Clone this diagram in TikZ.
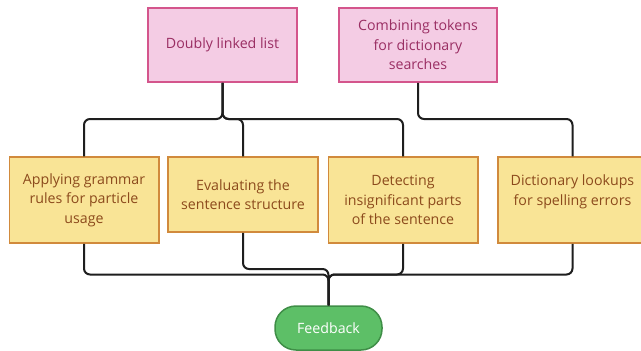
\documentclass[tikz,border=0pt]{standalone}
\usepackage{fontspec}
\setmainfont{Open Sans}
\begin{document}
\begin{tikzpicture}[x=1pt,y=-1pt,
  boxfont/.style={font=\fontsize{14.2}{19.4}\selectfont},
  pinkbox/.style={draw=pinkline,fill=pinkfill,text=pinktext,line width=1.5pt,align=center,inner sep=0pt,boxfont},
  yelbox/.style={draw=yelline,fill=yelfill,text=yeltext,line width=1.5pt,align=center,inner sep=0pt,boxfont},
  greenbox/.style={draw=greenline,fill=greenfill,text=white,line width=1.5pt,rounded corners=21pt,align=center,inner sep=0pt,boxfont},
  conn/.style={draw=connc,line width=2pt,rounded corners=6pt}]
\definecolor{pinkfill}{HTML}{F4CCE4}
\definecolor{pinkline}{HTML}{D4558C}
\definecolor{pinktext}{HTML}{9A2E63}
\definecolor{yelfill}{HTML}{F9E496}
\definecolor{yelline}{HTML}{D18A3C}
\definecolor{yeltext}{HTML}{8C4A1C}
\definecolor{greenfill}{HTML}{5DBF67}
\definecolor{greenline}{HTML}{3F8E47}
\definecolor{connc}{HTML}{1E1E1E}
\useasboundingbox (0,0) rectangle (641,351);
\fill[white] (0,0) rectangle (641,351);
\coordinate (topbus) at (0,119);
\coordinate (botbus) at (0,274.5);
\coordinate (midbus) at (0,269);
\node[pinkbox,minimum width=149pt,minimum height=74pt] (dll) at (222.5,45) {Doubly linked list};
\node[pinkbox,minimum width=158pt,minimum height=74pt] (comb) at (418,45) {Combining tokens\\for dictionary\\searches};
\node[yelbox,minimum width=149.5pt,minimum height=86pt] (a1) at (84,200) {Applying grammar\\rules for particle\\usage};
\node[yelbox,minimum width=150pt,minimum height=75pt] (a2) at (243,194.5) {Evaluating the\\sentence structure};
\node[yelbox,minimum width=149.5pt,minimum height=86pt] (a3) at (403,200) {Detecting\\insignificant parts\\of the sentence};
\node[yelbox,minimum width=149pt,minimum height=86pt] (a4) at (572.5,200) {Dictionary lookups\\for spelling errors\\\mbox{}};
\node[greenbox,minimum width=107pt,minimum height=44pt] (fb) at (328.5,328) {Feedback};
\draw[conn] (dll.south) -- (dll.south |- topbus) -| (a1.north);
\draw[conn] (dll.south) -- (dll.south |- topbus) -| (a2.north);
\draw[conn] (dll.south) -- (dll.south |- topbus) -| (a3.north);
\draw[conn] (comb.south) -- (comb.south |- topbus) -| (a4.north);
\draw[conn] (a1.south) -- (a1.south |- botbus) -| (fb.north);
\draw[conn] (a2.south) -- (a2.south |- midbus) -| (fb.north);
\draw[conn] (a3.south) -- (a3.south |- botbus) -| (fb.north);
\draw[conn] (a4.south) -- (a4.south |- botbus) -| (fb.north);
\end{tikzpicture}
\end{document}
